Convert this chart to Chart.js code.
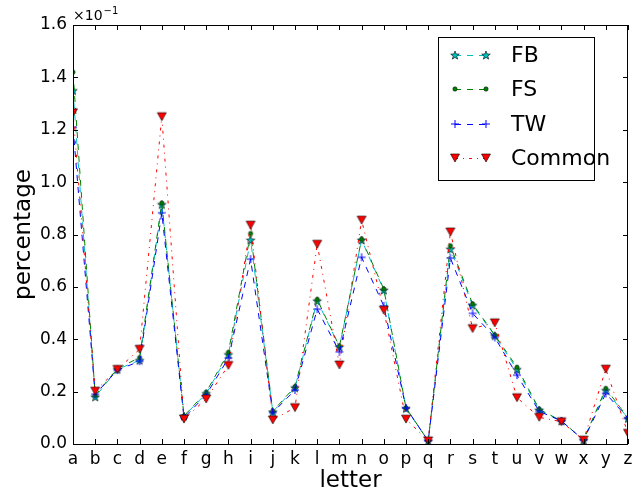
<!DOCTYPE html>
<html>
<head>
<meta charset="utf-8">
<script src="https://cdn.jsdelivr.net/npm/chart.js@4/dist/chart.umd.min.js"></script>
<style>
  html, body { margin: 0; background: #fff; }
  #wrap { width: 634px; height: 493px; }
</style>
</head>
<body>
<div id="wrap"><canvas id="chart"></canvas></div>
<script>
// letters and percentages (axis shows values x10^-1)
const letters = ['a','b','c','d','e','f','g','h','i','j','k','l','m','n','o','p','q','r','s','t','u','v','w','x','y','z'];
const yTicks = [0, 0.2, 0.4, 0.6, 0.8, 1.0, 1.2, 1.4, 1.6];

const fb     = [1.35, 0.18, 0.285, 0.32, 0.915, 0.107, 0.193, 0.342, 0.779, 0.123, 0.215, 0.547, 0.371, 0.779, 0.588, 0.136, 0.012, 0.745, 0.53, 0.414, 0.285, 0.13, 0.088, 0.015, 0.205, 0.098];
const fs     = [1.42, 0.185, 0.288, 0.33, 0.92, 0.107, 0.198, 0.35, 0.804, 0.125, 0.219, 0.552, 0.373, 0.782, 0.592, 0.138, 0.012, 0.757, 0.535, 0.416, 0.293, 0.133, 0.088, 0.015, 0.212, 0.1];
const tw     = [1.21, 0.19, 0.282, 0.316, 0.883, 0.1, 0.188, 0.328, 0.706, 0.12, 0.206, 0.515, 0.352, 0.713, 0.527, 0.138, 0.012, 0.71, 0.499, 0.407, 0.263, 0.125, 0.088, 0.015, 0.193, 0.098];
const common = [1.265, 0.202, 0.285, 0.362, 1.25, 0.095, 0.172, 0.30, 0.836, 0.092, 0.139, 0.763, 0.302, 0.855, 0.511, 0.095, 0.012, 0.81, 0.441, 0.463, 0.177, 0.102, 0.085, 0.015, 0.286, 0.041];

const CYAN = 'rgb(0,191,191)', GREEN = 'rgb(0,128,0)', BLUE = 'rgb(0,0,255)', RED = 'rgb(255,0,0)';

// marker images, matplotlib style
function marker(size, draw) {
    const c = document.createElement('canvas');
    c.width = size; c.height = size;
    const g = c.getContext('2d');
    draw(g, size / 2);
    return c;
}
const starImg = marker(12, (g, m) => {
    g.beginPath();
    for (let i = 0; i < 10; i++) {
        const r = i % 2 ? 1.9 : 4.5;
        const a = -Math.PI / 2 + i * Math.PI / 5;
        g.lineTo(m + r * Math.cos(a), m + 0.5 + r * Math.sin(a));
    }
    g.closePath();
    g.fillStyle = CYAN; g.fill();
    g.lineWidth = 0.6; g.strokeStyle = '#000'; g.stroke();
});
const dotImg = marker(8, (g, m) => {
    g.beginPath(); g.arc(m, m, 2.2, 0, Math.PI * 2);
    g.fillStyle = GREEN; g.fill();
    g.lineWidth = 0.5; g.strokeStyle = '#000'; g.stroke();
});
const plusImg = marker(10, (g, m) => {
    g.strokeStyle = BLUE; g.lineWidth = 1;
    g.beginPath();
    g.moveTo(m, 1); g.lineTo(m, 9);
    g.moveTo(1, m); g.lineTo(9, m);
    g.stroke();
});
const triImg = marker(12, (g, m) => {
    g.beginPath();
    g.moveTo(1.5, 2); g.lineTo(10.5, 2); g.lineTo(6, 10); g.closePath();
    g.fillStyle = RED; g.fill();
    g.lineWidth = 0.6; g.strokeStyle = '#000'; g.stroke();
});

const series = [
    { label: 'FB', data: fb, color: CYAN, dash: [6, 6], img: starImg, order: 3 },
    { label: 'FS', data: fs, color: GREEN, dash: [6, 6], img: dotImg, order: 2 },
    { label: 'TW', data: tw, color: BLUE, dash: [6, 6], img: plusImg, order: 1 },
    { label: 'Common', data: common, color: RED, dash: [3, 5, 1, 5], img: triImg, order: 0 }
];

const FONT = 'DejaVu Sans';

// inward ticks on all four sides, frame, offset text and legend
const framePlugin = {
    id: 'frame',
    afterDraw(chart) {
        const ctx = chart.ctx, a = chart.chartArea;
        const xs = chart.scales.x, ys = chart.scales.y;
        ctx.save();
        ctx.strokeStyle = '#000';
        ctx.lineWidth = 1;
        ctx.beginPath();
        xs.ticks.forEach((t, i) => {
            const x = Math.round(xs.getPixelForTick(i)) + 0.5;
            ctx.moveTo(x, a.bottom); ctx.lineTo(x, a.bottom - 5);
            ctx.moveTo(x, a.top); ctx.lineTo(x, a.top + 5);
        });
        ys.ticks.forEach((t, i) => {
            const y = Math.round(ys.getPixelForTick(i)) + 0.5;
            ctx.moveTo(a.left, y); ctx.lineTo(a.left + 5, y);
            ctx.moveTo(a.right, y); ctx.lineTo(a.right - 5, y);
        });
        ctx.stroke();
        ctx.strokeRect(Math.round(a.left) + 0.5, Math.round(a.top) + 0.5,
                       Math.round(a.right - a.left) - 1, Math.round(a.bottom - a.top));

        // offset text
        ctx.fillStyle = '#000';
        ctx.textBaseline = 'alphabetic';
        ctx.textAlign = 'left';
        ctx.font = '14px "' + FONT + '"';
        ctx.fillText('\u00d710', a.left, a.top - 5);
        const w = ctx.measureText('\u00d710').width;
        ctx.font = '10px "' + FONT + '"';
        ctx.fillText('\u22121', a.left + w + 1, a.top - 11);

        // legend box
        const bx = 438.5, by = 37.5, bw = 156, bh = 143;
        ctx.fillStyle = '#fff';
        ctx.fillRect(bx, by, bw, bh);
        ctx.strokeStyle = '#000';
        ctx.strokeRect(bx, by, bw, bh);
        const rows = [55, 89, 124, 158];
        series.forEach((s, i) => {
            const y = rows[i];
            ctx.strokeStyle = s.color;
            ctx.lineWidth = 1;
            ctx.setLineDash(s.dash);
            ctx.beginPath(); ctx.moveTo(455, y + 0.5); ctx.lineTo(486, y + 0.5); ctx.stroke();
            ctx.setLineDash([]);
            const h = s.img.width / 2;
            ctx.drawImage(s.img, 455 - h, y - h);
            ctx.drawImage(s.img, 486 - h, y - h);
            ctx.fillStyle = '#000';
            ctx.font = '22px "' + FONT + '"';
            ctx.textBaseline = 'middle';
            ctx.fillText(s.label, 511, y + 1);
        });
        ctx.restore();
    }
};

new Chart(document.getElementById('chart'), {
    type: 'line',
    data: {
        labels: letters,
        datasets: series.map(s => ({
            label: s.label,
            data: s.data,
            borderColor: s.color,
            backgroundColor: s.color,
            borderWidth: 1,
            borderDash: s.dash,
            pointStyle: s.img,
            pointRadius: 5,
            pointHoverRadius: 5,
            tension: 0,
            fill: false,
            clip: 0,
            order: s.order
        }))
    },
    options: {
        responsive: true,
        maintainAspectRatio: false,
        animation: false,
        events: [],
        layout: { padding: { top: 25, right: 2, left: 0, bottom: 0 } },
        plugins: {
            legend: { display: false },
            tooltip: { enabled: false }
        },
        scales: {
            x: {
                offset: false,
                grid: { display: false, drawTicks: false },
                border: { display: false },
                ticks: {
                    color: '#000', font: { family: FONT, size: 17 },
                    padding: 5, autoSkip: false, maxRotation: 0
                },
                title: {
                    display: true, text: 'letter', color: '#000',
                    font: { family: FONT, size: 23, lineHeight: 1.0 }, padding: { top: 0, bottom: 0 }
                },
                afterFit(scale) {
                    scale.height = 49;
                    scale.paddingLeft = 0; scale.paddingRight = 0;
                }
            },
            y: {
                min: 0, max: 1.6,
                grid: { display: false, drawTicks: false },
                border: { display: false },
                afterBuildTicks(scale) { scale.ticks = yTicks.map(v => ({ value: v })); },
                ticks: {
                    color: '#000', font: { family: FONT, size: 17 }, padding: 6,
                    callback: v => v.toFixed(1)
                },
                title: {
                    display: true, text: 'percentage', color: '#000',
                    font: { family: FONT, size: 23, lineHeight: 1.0 }, padding: { top: 13, bottom: 0 }
                },
                afterFit(scale) {
                    scale.width = 73;
                    scale.paddingTop = 0; scale.paddingBottom = 0;
                }
            }
        }
    },
    plugins: [framePlugin]
});
</script>
</body>
</html>
